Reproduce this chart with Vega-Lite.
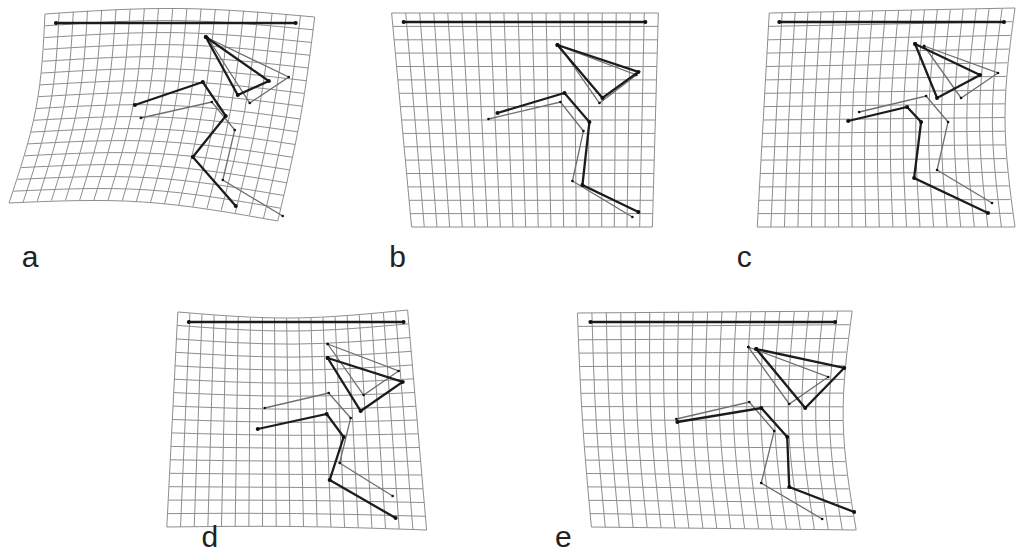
{
"$schema":"https://vega.github.io/schema/vega-lite/v6.json",
"width":1017,"height":553,"padding":0,
"autosize":{"type":"fit","contains":"padding"},
"background":"white",
"config":{"view":{"stroke":null}},
"datasets":{
"gv":[
{"g":"a0","x":45,"y":14},{"g":"a0","x":36,"y":108.5},{"g":"a0","x":9,"y":203},
{"g":"a1","x":59.2,"y":12.8},{"g":"a1","x":49.9,"y":107.4},{"g":"a1","x":23.2,"y":202},
{"g":"a2","x":73.4,"y":11.7},{"g":"a2","x":63.9,"y":106.4},{"g":"a2","x":37.3,"y":201.1},
{"g":"a3","x":87.6,"y":10.7},{"g":"a3","x":77.8,"y":105.6},{"g":"a3","x":51.5,"y":200.5},
{"g":"a4","x":101.8,"y":10},{"g":"a4","x":91.6,"y":105.1},{"g":"a4","x":65.6,"y":200.1},
{"g":"a5","x":116.1,"y":9.4},{"g":"a5","x":105.6,"y":104.7},{"g":"a5","x":79.8,"y":200},
{"g":"a6","x":130.3,"y":8.9},{"g":"a6","x":119.6,"y":104.5},{"g":"a6","x":94,"y":200},
{"g":"a7","x":144.5,"y":8.6},{"g":"a7","x":133.5,"y":104.5},{"g":"a7","x":108.1,"y":200.3},
{"g":"a8","x":158.7,"y":8.4},{"g":"a8","x":147.4,"y":104.6},{"g":"a8","x":122.3,"y":200.8},
{"g":"a9","x":172.9,"y":8.4},{"g":"a9","x":161.3,"y":105},{"g":"a9","x":136.4,"y":201.6},
{"g":"a10","x":187.1,"y":8.6},{"g":"a10","x":175.2,"y":105.6},{"g":"a10","x":150.6,"y":202.5},
{"g":"a11","x":201.3,"y":8.9},{"g":"a11","x":189.1,"y":106.3},{"g":"a11","x":164.7,"y":203.7},
{"g":"a12","x":215.5,"y":9.4},{"g":"a12","x":203,"y":107.3},{"g":"a12","x":178.9,"y":205.1},
{"g":"a13","x":229.7,"y":10},{"g":"a13","x":216.9,"y":108.4},{"g":"a13","x":193,"y":206.7},
{"g":"a14","x":243.9,"y":10.8},{"g":"a14","x":230.9,"y":109.7},{"g":"a14","x":207.2,"y":208.5},
{"g":"a15","x":258.2,"y":11.7},{"g":"a15","x":244.9,"y":111.2},{"g":"a15","x":221.4,"y":210.6},
{"g":"a16","x":272.4,"y":12.8},{"g":"a16","x":258.7,"y":112.8},{"g":"a16","x":235.5,"y":212.8},
{"g":"a17","x":286.6,"y":14},{"g":"a17","x":272.6,"y":114.7},{"g":"a17","x":249.7,"y":215.3},
{"g":"a18","x":300.8,"y":15.5},{"g":"a18","x":286.6,"y":116.8},{"g":"a18","x":263.8,"y":218.1},
{"g":"a19","x":315,"y":17},{"g":"a19","x":300.5,"y":119},{"g":"a19","x":278,"y":221},
{"g":"b0","x":392,"y":13},{"g":"b0","x":412,"y":227},
{"g":"b1","x":406.1,"y":13},{"g":"b1","x":424.7,"y":227},
{"g":"b2","x":420.1,"y":13},{"g":"b2","x":437.4,"y":227},
{"g":"b3","x":434.2,"y":13},{"g":"b3","x":450.1,"y":227},
{"g":"b4","x":448.2,"y":13},{"g":"b4","x":462.7,"y":227},
{"g":"b5","x":462.3,"y":13},{"g":"b5","x":475.4,"y":227},
{"g":"b6","x":476.3,"y":13},{"g":"b6","x":488.1,"y":227},
{"g":"b7","x":490.4,"y":13},{"g":"b7","x":500.8,"y":227},
{"g":"b8","x":504.4,"y":13},{"g":"b8","x":513.5,"y":227},
{"g":"b9","x":518.5,"y":13},{"g":"b9","x":526.2,"y":227},
{"g":"b10","x":532.5,"y":13},{"g":"b10","x":538.8,"y":227},
{"g":"b11","x":546.6,"y":13},{"g":"b11","x":551.5,"y":227},
{"g":"b12","x":560.6,"y":13},{"g":"b12","x":564.2,"y":227},
{"g":"b13","x":574.7,"y":13},{"g":"b13","x":576.9,"y":227},
{"g":"b14","x":588.7,"y":13},{"g":"b14","x":589.6,"y":227},
{"g":"b15","x":602.8,"y":13},{"g":"b15","x":602.3,"y":227},
{"g":"b16","x":616.8,"y":13},{"g":"b16","x":614.9,"y":227},
{"g":"b17","x":630.9,"y":13},{"g":"b17","x":627.6,"y":227},
{"g":"b18","x":644.9,"y":13},{"g":"b18","x":640.3,"y":227},
{"g":"b19","x":659,"y":13},{"g":"b19","x":653,"y":227},
{"g":"c0","x":770,"y":13},{"g":"c0","x":764,"y":120},{"g":"c0","x":758,"y":227},
{"g":"c1","x":783,"y":12.7},{"g":"c1","x":776.8,"y":119.9},{"g":"c1","x":771.6,"y":227},
{"g":"c2","x":795.9,"y":12.5},{"g":"c2","x":789.5,"y":119.7},{"g":"c2","x":785.2,"y":227},
{"g":"c3","x":808.8,"y":12.2},{"g":"c3","x":802.2,"y":119.6},{"g":"c3","x":798.7,"y":227},
{"g":"c4","x":821.8,"y":12},{"g":"c4","x":815,"y":119.5},{"g":"c4","x":812.3,"y":227},
{"g":"c5","x":834.7,"y":11.7},{"g":"c5","x":827.7,"y":119.3},{"g":"c5","x":825.9,"y":227},
{"g":"c6","x":847.7,"y":11.4},{"g":"c6","x":840.4,"y":119.2},{"g":"c6","x":839.5,"y":227},
{"g":"c7","x":860.6,"y":11.2},{"g":"c7","x":853.1,"y":119.1},{"g":"c7","x":853,"y":227},
{"g":"c8","x":873.6,"y":10.9},{"g":"c8","x":865.9,"y":119},{"g":"c8","x":866.6,"y":227},
{"g":"c9","x":886.5,"y":10.6},{"g":"c9","x":878.6,"y":118.8},{"g":"c9","x":880.2,"y":227},
{"g":"c10","x":899.5,"y":10.4},{"g":"c10","x":891.4,"y":118.7},{"g":"c10","x":893.8,"y":227},
{"g":"c11","x":912.4,"y":10.1},{"g":"c11","x":904.1,"y":118.6},{"g":"c11","x":907.4,"y":227},
{"g":"c12","x":925.4,"y":9.8},{"g":"c12","x":916.8,"y":118.4},{"g":"c12","x":920.9,"y":227},
{"g":"c13","x":938.3,"y":9.6},{"g":"c13","x":929.6,"y":118.3},{"g":"c13","x":934.5,"y":227},
{"g":"c14","x":951.3,"y":9.3},{"g":"c14","x":942.3,"y":118.2},{"g":"c14","x":948.1,"y":227},
{"g":"c15","x":964.2,"y":9.1},{"g":"c15","x":955,"y":118},{"g":"c15","x":961.7,"y":227},
{"g":"c16","x":977.2,"y":8.8},{"g":"c16","x":967.8,"y":117.9},{"g":"c16","x":975.3,"y":227},
{"g":"c17","x":990.1,"y":8.5},{"g":"c17","x":980.5,"y":117.8},{"g":"c17","x":988.8,"y":227},
{"g":"c18","x":1003.1,"y":8.3},{"g":"c18","x":993.3,"y":117.6},{"g":"c18","x":1002.4,"y":227},
{"g":"c19","x":1016,"y":8},{"g":"c19","x":1006,"y":117.5},{"g":"c19","x":1016,"y":227},
{"g":"d0","x":178,"y":312},{"g":"d0","x":172.5,"y":419.5},{"g":"d0","x":167,"y":527},
{"g":"d1","x":190.1,"y":313.3},{"g":"d1","x":185.4,"y":420},{"g":"d1","x":180.7,"y":526.8},
{"g":"d2","x":202.2,"y":314.4},{"g":"d2","x":198.3,"y":420.5},{"g":"d2","x":194.4,"y":526.6},
{"g":"d3","x":214.3,"y":315.4},{"g":"d3","x":211.2,"y":420.9},{"g":"d3","x":208.1,"y":526.4},
{"g":"d4","x":226.4,"y":316.2},{"g":"d4","x":224.1,"y":421.3},{"g":"d4","x":221.7,"y":526.3},
{"g":"d5","x":238.5,"y":316.9},{"g":"d5","x":237,"y":421.6},{"g":"d5","x":235.4,"y":526.2},
{"g":"d6","x":250.6,"y":317.4},{"g":"d6","x":249.9,"y":421.8},{"g":"d6","x":249.1,"y":526.2},
{"g":"d7","x":262.7,"y":317.8},{"g":"d7","x":262.8,"y":422},{"g":"d7","x":262.8,"y":526.2},
{"g":"d8","x":274.8,"y":318},{"g":"d8","x":275.7,"y":422.2},{"g":"d8","x":276.5,"y":526.3},
{"g":"d9","x":286.9,"y":318},{"g":"d9","x":288.6,"y":422.2},{"g":"d9","x":290.2,"y":526.4},
{"g":"d10","x":299.1,"y":317.9},{"g":"d10","x":301.4,"y":422.3},{"g":"d10","x":303.8,"y":526.6},
{"g":"d11","x":311.2,"y":317.7},{"g":"d11","x":314.4,"y":422.3},{"g":"d11","x":317.5,"y":526.8},
{"g":"d12","x":323.3,"y":317.3},{"g":"d12","x":327.3,"y":422.2},{"g":"d12","x":331.2,"y":527},
{"g":"d13","x":335.4,"y":316.7},{"g":"d13","x":340.2,"y":422},{"g":"d13","x":344.9,"y":527.3},
{"g":"d14","x":347.5,"y":316},{"g":"d14","x":353.1,"y":421.9},{"g":"d14","x":358.6,"y":527.7},
{"g":"d15","x":359.6,"y":315.1},{"g":"d15","x":366,"y":421.6},{"g":"d15","x":372.3,"y":528},
{"g":"d16","x":371.7,"y":314},{"g":"d16","x":378.8,"y":421.3},{"g":"d16","x":385.9,"y":528.5},
{"g":"d17","x":383.8,"y":312.9},{"g":"d17","x":391.7,"y":420.9},{"g":"d17","x":399.6,"y":528.9},
{"g":"d18","x":395.9,"y":311.5},{"g":"d18","x":404.6,"y":420.5},{"g":"d18","x":413.3,"y":529.4},
{"g":"d19","x":408,"y":310},{"g":"d19","x":417.5,"y":420},{"g":"d19","x":427,"y":530},
{"g":"e0","x":578,"y":313},{"g":"e0","x":583,"y":420},{"g":"e0","x":592,"y":527},
{"g":"e1","x":592.5,"y":312.9},{"g":"e1","x":596.7,"y":420},{"g":"e1","x":605.9,"y":527.2},
{"g":"e2","x":606.9,"y":312.8},{"g":"e2","x":610.5,"y":420},{"g":"e2","x":619.9,"y":527.3},
{"g":"e3","x":621.4,"y":312.7},{"g":"e3","x":624.2,"y":420.1},{"g":"e3","x":633.8,"y":527.5},
{"g":"e4","x":635.9,"y":312.6},{"g":"e4","x":638,"y":420.1},{"g":"e4","x":647.8,"y":527.6},
{"g":"e5","x":650.4,"y":312.5},{"g":"e5","x":651.7,"y":420.2},{"g":"e5","x":661.7,"y":527.8},
{"g":"e6","x":664.8,"y":312.4},{"g":"e6","x":665.4,"y":420.2},{"g":"e6","x":675.7,"y":527.9},
{"g":"e7","x":679.3,"y":312.3},{"g":"e7","x":679.1,"y":420.2},{"g":"e7","x":689.6,"y":528.1},
{"g":"e8","x":693.8,"y":312.2},{"g":"e8","x":692.9,"y":420.3},{"g":"e8","x":703.6,"y":528.3},
{"g":"e9","x":708.3,"y":312.1},{"g":"e9","x":706.6,"y":420.2},{"g":"e9","x":717.5,"y":528.4},
{"g":"e10","x":722.7,"y":311.9},{"g":"e10","x":720.4,"y":420.3},{"g":"e10","x":731.5,"y":528.6},
{"g":"e11","x":737.2,"y":311.8},{"g":"e11","x":734.1,"y":420.3},{"g":"e11","x":745.4,"y":528.7},
{"g":"e12","x":751.7,"y":311.7},{"g":"e12","x":747.9,"y":420.3},{"g":"e12","x":759.4,"y":528.9},
{"g":"e13","x":766.2,"y":311.6},{"g":"e13","x":761.6,"y":420.3},{"g":"e13","x":773.3,"y":529.1},
{"g":"e14","x":780.6,"y":311.5},{"g":"e14","x":775.3,"y":420.4},{"g":"e14","x":787.3,"y":529.2},
{"g":"e15","x":795.1,"y":311.4},{"g":"e15","x":789.1,"y":420.4},{"g":"e15","x":801.2,"y":529.4},
{"g":"e16","x":809.6,"y":311.3},{"g":"e16","x":802.8,"y":420.4},{"g":"e16","x":815.2,"y":529.5},
{"g":"e17","x":824.1,"y":311.2},{"g":"e17","x":816.6,"y":420.5},{"g":"e17","x":829.1,"y":529.7},
{"g":"e18","x":838.5,"y":311.1},{"g":"e18","x":830.3,"y":420.5},{"g":"e18","x":843.1,"y":529.8},
{"g":"e19","x":853,"y":311},{"g":"e19","x":844,"y":420.5},{"g":"e19","x":857,"y":530}
],
"gh":[
{"g":"a0","x":45,"y":14},{"g":"a0","x":180,"y":8.5},{"g":"a0","x":315,"y":17},
{"g":"a1","x":44.9,"y":25.8},{"g":"a1","x":179.3,"y":20.6},{"g":"a1","x":313.6,"y":29.8},
{"g":"a2","x":44.4,"y":37.6},{"g":"a2","x":178.3,"y":32.7},{"g":"a2","x":312.1,"y":42.5},
{"g":"a3","x":43.8,"y":49.4},{"g":"a3","x":177.1,"y":44.8},{"g":"a3","x":310.5,"y":55.3},
{"g":"a4","x":42.8,"y":61.3},{"g":"a4","x":175.8,"y":56.9},{"g":"a4","x":308.8,"y":68},
{"g":"a5","x":41.5,"y":73.1},{"g":"a5","x":174.2,"y":69},{"g":"a5","x":306.9,"y":80.8},
{"g":"a6","x":39.9,"y":84.9},{"g":"a6","x":172.4,"y":81.1},{"g":"a6","x":304.9,"y":93.5},
{"g":"a7","x":38.1,"y":96.7},{"g":"a7","x":170.5,"y":93.2},{"g":"a7","x":302.8,"y":106.3},
{"g":"a8","x":36,"y":108.5},{"g":"a8","x":168.3,"y":105.3},{"g":"a8","x":300.5,"y":119},
{"g":"a9","x":33.6,"y":120.3},{"g":"a9","x":165.9,"y":117.3},{"g":"a9","x":298.1,"y":131.8},
{"g":"a10","x":30.9,"y":132.1},{"g":"a10","x":163.3,"y":129.4},{"g":"a10","x":295.6,"y":144.5},
{"g":"a11","x":28,"y":143.9},{"g":"a11","x":160.5,"y":141.5},{"g":"a11","x":293,"y":157.3},
{"g":"a12","x":24.8,"y":155.8},{"g":"a12","x":157.6,"y":153.6},{"g":"a12","x":290.3,"y":170},
{"g":"a13","x":21.3,"y":167.6},{"g":"a13","x":154.3,"y":165.7},{"g":"a13","x":287.4,"y":182.8},
{"g":"a14","x":17.4,"y":179.4},{"g":"a14","x":150.9,"y":177.8},{"g":"a14","x":284.4,"y":195.5},
{"g":"a15","x":13.4,"y":191.2},{"g":"a15","x":147.3,"y":189.9},{"g":"a15","x":281.3,"y":208.3},
{"g":"a16","x":9,"y":203},{"g":"a16","x":143.5,"y":202},{"g":"a16","x":278,"y":221},
{"g":"b0","x":392,"y":13},{"g":"b0","x":659,"y":13},
{"g":"b1","x":393.3,"y":26.4},{"g":"b1","x":658.6,"y":26.4},
{"g":"b2","x":394.5,"y":39.8},{"g":"b2","x":658.3,"y":39.8},
{"g":"b3","x":395.8,"y":53.1},{"g":"b3","x":657.9,"y":53.1},
{"g":"b4","x":397,"y":66.5},{"g":"b4","x":657.5,"y":66.5},
{"g":"b5","x":398.3,"y":79.9},{"g":"b5","x":657.1,"y":79.9},
{"g":"b6","x":399.5,"y":93.3},{"g":"b6","x":656.8,"y":93.3},
{"g":"b7","x":400.8,"y":106.6},{"g":"b7","x":656.4,"y":106.6},
{"g":"b8","x":402,"y":120},{"g":"b8","x":656,"y":120},
{"g":"b9","x":403.3,"y":133.4},{"g":"b9","x":655.6,"y":133.4},
{"g":"b10","x":404.5,"y":146.8},{"g":"b10","x":655.3,"y":146.8},
{"g":"b11","x":405.8,"y":160.1},{"g":"b11","x":654.9,"y":160.1},
{"g":"b12","x":407,"y":173.5},{"g":"b12","x":654.5,"y":173.5},
{"g":"b13","x":408.3,"y":186.9},{"g":"b13","x":654.1,"y":186.9},
{"g":"b14","x":409.5,"y":200.3},{"g":"b14","x":653.8,"y":200.3},
{"g":"b15","x":410.8,"y":213.6},{"g":"b15","x":653.4,"y":213.6},
{"g":"b16","x":412,"y":227},{"g":"b16","x":653,"y":227},
{"g":"c0","x":770,"y":13},{"g":"c0","x":893,"y":10.5},{"g":"c0","x":1016,"y":8},
{"g":"c1","x":769.3,"y":26.4},{"g":"c1","x":891.5,"y":24},{"g":"c1","x":1013.7,"y":21.7},
{"g":"c2","x":768.5,"y":39.8},{"g":"c2","x":890,"y":37.6},{"g":"c2","x":1011.6,"y":35.4},
{"g":"c3","x":767.8,"y":53.1},{"g":"c3","x":888.8,"y":51.1},{"g":"c3","x":1009.9,"y":49.1},
{"g":"c4","x":767,"y":66.5},{"g":"c4","x":887.8,"y":64.6},{"g":"c4","x":1008.5,"y":62.8},
{"g":"c5","x":766.3,"y":79.9},{"g":"c5","x":886.8,"y":78.1},{"g":"c5","x":1007.4,"y":76.4},
{"g":"c6","x":765.5,"y":93.3},{"g":"c6","x":886,"y":91.7},{"g":"c6","x":1006.6,"y":90.1},
{"g":"c7","x":764.8,"y":106.6},{"g":"c7","x":885.5,"y":105.2},{"g":"c7","x":1006.2,"y":103.8},
{"g":"c8","x":764,"y":120},{"g":"c8","x":885,"y":118.8},{"g":"c8","x":1006,"y":117.5},
{"g":"c9","x":763.3,"y":133.4},{"g":"c9","x":884.7,"y":132.3},{"g":"c9","x":1006.2,"y":131.2},
{"g":"c10","x":762.5,"y":146.8},{"g":"c10","x":884.5,"y":145.8},{"g":"c10","x":1006.6,"y":144.9},
{"g":"c11","x":761.8,"y":160.1},{"g":"c11","x":884.6,"y":159.4},{"g":"c11","x":1007.4,"y":158.6},
{"g":"c12","x":761,"y":173.5},{"g":"c12","x":884.8,"y":172.9},{"g":"c12","x":1008.5,"y":172.3},
{"g":"c13","x":760.3,"y":186.9},{"g":"c13","x":885.1,"y":186.4},{"g":"c13","x":1009.9,"y":185.9},
{"g":"c14","x":759.5,"y":200.3},{"g":"c14","x":885.5,"y":199.9},{"g":"c14","x":1011.6,"y":199.6},
{"g":"c15","x":758.8,"y":213.6},{"g":"c15","x":886.2,"y":213.5},{"g":"c15","x":1013.7,"y":213.3},
{"g":"c16","x":758,"y":227},{"g":"c16","x":887,"y":227},{"g":"c16","x":1016,"y":227},
{"g":"d0","x":178,"y":312},{"g":"d0","x":293,"y":318},{"g":"d0","x":408,"y":310},
{"g":"d1","x":177.3,"y":325.4},{"g":"d1","x":293.3,"y":331},{"g":"d1","x":409.2,"y":323.8},
{"g":"d2","x":176.6,"y":338.9},{"g":"d2","x":293.5,"y":344.1},{"g":"d2","x":410.4,"y":337.5},
{"g":"d3","x":175.9,"y":352.3},{"g":"d3","x":293.8,"y":357.1},{"g":"d3","x":411.6,"y":351.3},
{"g":"d4","x":175.3,"y":365.8},{"g":"d4","x":294,"y":370.1},{"g":"d4","x":412.8,"y":365},
{"g":"d5","x":174.6,"y":379.2},{"g":"d5","x":294.3,"y":383.2},{"g":"d5","x":413.9,"y":378.8},
{"g":"d6","x":173.9,"y":392.6},{"g":"d6","x":294.5,"y":396.2},{"g":"d6","x":415.1,"y":392.5},
{"g":"d7","x":173.2,"y":406.1},{"g":"d7","x":294.8,"y":409.2},{"g":"d7","x":416.3,"y":406.3},
{"g":"d8","x":172.5,"y":419.5},{"g":"d8","x":295,"y":422.3},{"g":"d8","x":417.5,"y":420},
{"g":"d9","x":171.8,"y":432.9},{"g":"d9","x":295.3,"y":435.3},{"g":"d9","x":418.7,"y":433.8},
{"g":"d10","x":171.1,"y":446.4},{"g":"d10","x":295.5,"y":448.3},{"g":"d10","x":419.9,"y":447.5},
{"g":"d11","x":170.4,"y":459.8},{"g":"d11","x":295.8,"y":461.3},{"g":"d11","x":421.1,"y":461.3},
{"g":"d12","x":169.8,"y":473.3},{"g":"d12","x":296,"y":474.4},{"g":"d12","x":422.3,"y":475},
{"g":"d13","x":169.1,"y":486.7},{"g":"d13","x":296.3,"y":487.4},{"g":"d13","x":423.4,"y":488.8},
{"g":"d14","x":168.4,"y":500.1},{"g":"d14","x":296.5,"y":500.4},{"g":"d14","x":424.6,"y":502.5},
{"g":"d15","x":167.7,"y":513.6},{"g":"d15","x":296.8,"y":513.5},{"g":"d15","x":425.8,"y":516.3},
{"g":"d16","x":167,"y":527},{"g":"d16","x":297,"y":526.5},{"g":"d16","x":427,"y":530},
{"g":"e0","x":578,"y":313},{"g":"e0","x":715.5,"y":312},{"g":"e0","x":853,"y":311},
{"g":"e1","x":578.4,"y":326.4},{"g":"e1","x":714.6,"y":325.6},{"g":"e1","x":850.7,"y":324.7},
{"g":"e2","x":578.9,"y":339.8},{"g":"e2","x":713.8,"y":339.1},{"g":"e2","x":848.7,"y":338.4},
{"g":"e3","x":579.4,"y":353.1},{"g":"e3","x":713.2,"y":352.6},{"g":"e3","x":847.1,"y":352.1},
{"g":"e4","x":580,"y":366.5},{"g":"e4","x":712.9,"y":366.1},{"g":"e4","x":845.8,"y":365.8},
{"g":"e5","x":580.7,"y":379.9},{"g":"e5","x":712.8,"y":379.7},{"g":"e5","x":844.8,"y":379.4},
{"g":"e6","x":581.4,"y":393.3},{"g":"e6","x":712.8,"y":393.2},{"g":"e6","x":844.2,"y":393.1},
{"g":"e7","x":582.2,"y":406.6},{"g":"e7","x":713.1,"y":406.7},{"g":"e7","x":844,"y":406.8},
{"g":"e8","x":583,"y":420},{"g":"e8","x":713.5,"y":420.3},{"g":"e8","x":844,"y":420.5},
{"g":"e9","x":583.9,"y":433.4},{"g":"e9","x":714.2,"y":433.8},{"g":"e9","x":844.5,"y":434.2},
{"g":"e10","x":584.9,"y":446.8},{"g":"e10","x":715.1,"y":447.3},{"g":"e10","x":845.2,"y":447.9},
{"g":"e11","x":585.9,"y":460.1},{"g":"e11","x":716.1,"y":460.9},{"g":"e11","x":846.3,"y":461.6},
{"g":"e12","x":587,"y":473.5},{"g":"e12","x":717.4,"y":474.4},{"g":"e12","x":847.8,"y":475.3},
{"g":"e13","x":588.2,"y":486.9},{"g":"e13","x":718.9,"y":487.9},{"g":"e13","x":849.6,"y":488.9},
{"g":"e14","x":589.4,"y":500.3},{"g":"e14","x":720.6,"y":501.4},{"g":"e14","x":851.7,"y":502.6},
{"g":"e15","x":590.7,"y":513.6},{"g":"e15","x":722.4,"y":515},{"g":"e15","x":854.2,"y":516.3},
{"g":"e16","x":592,"y":527},{"g":"e16","x":724.5,"y":528.5},{"g":"e16","x":857,"y":530}
],
"lm":[
{"g":"a-bar","w":"k","o":0,"x":56,"y":23},{"g":"a-bar","w":"k","o":1,"x":296,"y":23},
{"g":"a-kt","w":"k","o":0,"x":206,"y":37},{"g":"a-kt","w":"k","o":1,"x":269,"y":81},{"g":"a-kt","w":"k","o":2,"x":238,"y":95},{"g":"a-kt","w":"k","o":3,"x":206,"y":37},
{"g":"a-kz","w":"k","o":0,"x":135,"y":105},{"g":"a-kz","w":"k","o":1,"x":203,"y":82},{"g":"a-kz","w":"k","o":2,"x":226,"y":116},{"g":"a-kz","w":"k","o":3,"x":193,"y":157},{"g":"a-kz","w":"k","o":4,"x":236,"y":206},
{"g":"a-tt","w":"t","o":0,"x":208,"y":38},{"g":"a-tt","w":"t","o":1,"x":289,"y":77},{"g":"a-tt","w":"t","o":2,"x":250,"y":103},{"g":"a-tt","w":"t","o":3,"x":208,"y":38},
{"g":"a-tz","w":"t","o":0,"x":141,"y":118},{"g":"a-tz","w":"t","o":1,"x":212,"y":102},{"g":"a-tz","w":"t","o":2,"x":235,"y":130},{"g":"a-tz","w":"t","o":3,"x":223,"y":180},{"g":"a-tz","w":"t","o":4,"x":283,"y":216},
{"g":"b-bar","w":"k","o":0,"x":404,"y":22},{"g":"b-bar","w":"k","o":1,"x":646,"y":22},
{"g":"b-kt","w":"k","o":0,"x":558,"y":45},{"g":"b-kt","w":"k","o":1,"x":639,"y":72},{"g":"b-kt","w":"k","o":2,"x":603,"y":98},{"g":"b-kt","w":"k","o":3,"x":558,"y":45},
{"g":"b-kz","w":"k","o":0,"x":498,"y":113},{"g":"b-kz","w":"k","o":1,"x":565,"y":93},{"g":"b-kz","w":"k","o":2,"x":590,"y":122},{"g":"b-kz","w":"k","o":3,"x":583,"y":185},{"g":"b-kz","w":"k","o":4,"x":639,"y":212},
{"g":"b-tt","w":"t","o":0,"x":560,"y":46},{"g":"b-tt","w":"t","o":1,"x":637,"y":75},{"g":"b-tt","w":"t","o":2,"x":600,"y":103},{"g":"b-tt","w":"t","o":3,"x":560,"y":46},
{"g":"b-tz","w":"t","o":0,"x":489,"y":119},{"g":"b-tz","w":"t","o":1,"x":561,"y":102},{"g":"b-tz","w":"t","o":2,"x":584,"y":131},{"g":"b-tz","w":"t","o":3,"x":573,"y":181},{"g":"b-tz","w":"t","o":4,"x":633,"y":217},
{"g":"c-bar","w":"k","o":0,"x":780,"y":22},{"g":"c-bar","w":"k","o":1,"x":1005,"y":22},
{"g":"c-kt","w":"k","o":0,"x":916,"y":44},{"g":"c-kt","w":"k","o":1,"x":981,"y":75},{"g":"c-kt","w":"k","o":2,"x":938,"y":98},{"g":"c-kt","w":"k","o":3,"x":916,"y":44},
{"g":"c-kz","w":"k","o":0,"x":849,"y":121},{"g":"c-kz","w":"k","o":1,"x":908,"y":107},{"g":"c-kz","w":"k","o":2,"x":922,"y":122},{"g":"c-kz","w":"k","o":3,"x":915,"y":178},{"g":"c-kz","w":"k","o":4,"x":989,"y":213},
{"g":"c-tt","w":"t","o":0,"x":925,"y":46},{"g":"c-tt","w":"t","o":1,"x":999,"y":73},{"g":"c-tt","w":"t","o":2,"x":962,"y":98},{"g":"c-tt","w":"t","o":3,"x":925,"y":46},
{"g":"c-tz","w":"t","o":0,"x":860,"y":112},{"g":"c-tz","w":"t","o":1,"x":927,"y":96},{"g":"c-tz","w":"t","o":2,"x":949,"y":122},{"g":"c-tz","w":"t","o":3,"x":938,"y":170},{"g":"c-tz","w":"t","o":4,"x":993,"y":203},
{"g":"d-bar","w":"k","o":0,"x":189,"y":322},{"g":"d-bar","w":"k","o":1,"x":404,"y":322},
{"g":"d-kt","w":"k","o":0,"x":328,"y":358},{"g":"d-kt","w":"k","o":1,"x":403,"y":382},{"g":"d-kt","w":"k","o":2,"x":361,"y":411},{"g":"d-kt","w":"k","o":3,"x":328,"y":358},
{"g":"d-kz","w":"k","o":0,"x":258,"y":429},{"g":"d-kz","w":"k","o":1,"x":327,"y":414},{"g":"d-kz","w":"k","o":2,"x":344,"y":437},{"g":"d-kz","w":"k","o":3,"x":330,"y":480},{"g":"d-kz","w":"k","o":4,"x":396,"y":518},
{"g":"d-tt","w":"t","o":0,"x":328,"y":344},{"g":"d-tt","w":"t","o":1,"x":399,"y":371},{"g":"d-tt","w":"t","o":2,"x":364,"y":395},{"g":"d-tt","w":"t","o":3,"x":328,"y":344},
{"g":"d-tz","w":"t","o":0,"x":265,"y":408},{"g":"d-tz","w":"t","o":1,"x":329,"y":393},{"g":"d-tz","w":"t","o":2,"x":351,"y":418},{"g":"d-tz","w":"t","o":3,"x":340,"y":463},{"g":"d-tz","w":"t","o":4,"x":393,"y":496},
{"g":"e-bar","w":"k","o":0,"x":591,"y":322},{"g":"e-bar","w":"k","o":1,"x":836,"y":322},
{"g":"e-kt","w":"k","o":0,"x":757,"y":349},{"g":"e-kt","w":"k","o":1,"x":845,"y":368},{"g":"e-kt","w":"k","o":2,"x":806,"y":408},{"g":"e-kt","w":"k","o":3,"x":757,"y":349},
{"g":"e-kz","w":"k","o":0,"x":678,"y":422},{"g":"e-kz","w":"k","o":1,"x":762,"y":408},{"g":"e-kz","w":"k","o":2,"x":788,"y":437},{"g":"e-kz","w":"k","o":3,"x":790,"y":487},{"g":"e-kz","w":"k","o":4,"x":855,"y":512},
{"g":"e-tt","w":"t","o":0,"x":749,"y":347},{"g":"e-tt","w":"t","o":1,"x":829,"y":377},{"g":"e-tt","w":"t","o":2,"x":790,"y":404},{"g":"e-tt","w":"t","o":3,"x":749,"y":347},
{"g":"e-tz","w":"t","o":0,"x":677,"y":419},{"g":"e-tz","w":"t","o":1,"x":750,"y":402},{"g":"e-tz","w":"t","o":2,"x":775,"y":431},{"g":"e-tz","w":"t","o":3,"x":762,"y":483},{"g":"e-tz","w":"t","o":4,"x":823,"y":519}
],
"lab":[
{"t":"a","x":30,"y":267},{"t":"b","x":398,"y":267},{"t":"c","x":745,"y":267},{"t":"d","x":210,"y":547},{"t":"e","x":564,"y":547}
]
},
"encoding":{
"x":{"field":"x","type":"quantitative","scale":{"domain":[0,1017],"nice":false,"zero":false},"axis":null},
"y":{"field":"y","type":"quantitative","scale":{"domain":[0,553],"nice":false,"zero":false,"reverse":true},"axis":null}
},
"layer":[
{"data":{"name":"gv"},"mark":{"type":"line","interpolate":"natural","stroke":"#8e8e8e","strokeWidth":1},
 "encoding":{"detail":{"field":"g","type":"nominal"},"order":{"field":"y","type":"quantitative"}}},
{"data":{"name":"gh"},"mark":{"type":"line","interpolate":"natural","stroke":"#8e8e8e","strokeWidth":1},
 "encoding":{"detail":{"field":"g","type":"nominal"},"order":{"field":"x","type":"quantitative"}}},
{"data":{"name":"lm"},"transform":[{"filter":"datum.w == 't'"}],"mark":{"type":"line","stroke":"#6e6e6e","strokeWidth":1.3},
 "encoding":{"detail":{"field":"g","type":"nominal"},"order":{"field":"o","type":"quantitative"}}},
{"data":{"name":"lm"},"transform":[{"filter":"datum.w == 'k'"}],"mark":{"type":"line","stroke":"#1c1c1c","strokeWidth":2.3},
 "encoding":{"detail":{"field":"g","type":"nominal"},"order":{"field":"o","type":"quantitative"}}},
{"data":{"name":"lm"},"mark":{"type":"circle","color":"#111","opacity":1},
 "encoding":{"size":{"field":"w","type":"nominal","scale":{"domain":["k","t"],"range":[16,7]},"legend":null}}},
{"data":{"name":"lab"},"mark":{"type":"text","font":"Liberation Sans","fontSize":30,"align":"center","baseline":"alphabetic","color":"#222"},
 "encoding":{"text":{"field":"t","type":"nominal"}}}
]
}
